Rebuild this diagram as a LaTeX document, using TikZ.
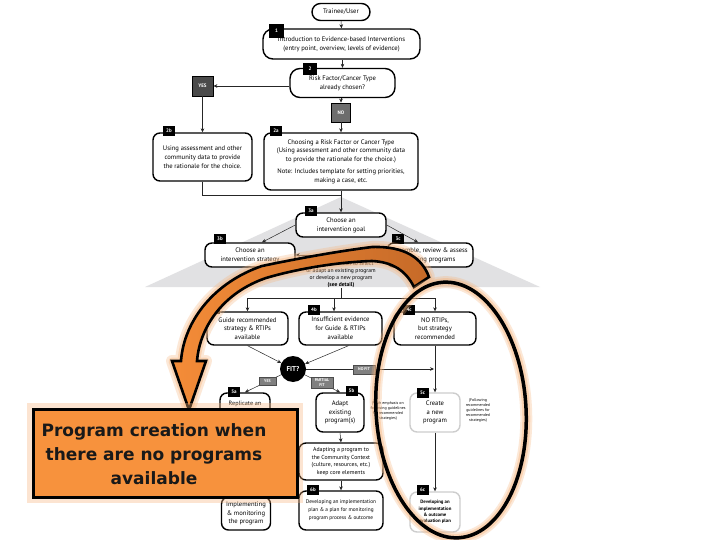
\documentclass[tikz,border=0pt]{standalone}
\usepackage{fontspec}
\setmainfont{PT Sans}
\newfontfamily\bigfont{DejaVu Sans}
\usetikzlibrary{arrows.meta}
\definecolor{orfill}{HTML}{F7923D}
\definecolor{orlight}{HTML}{F48C38}
\definecolor{ordark}{HTML}{C66A28}
\definecolor{glow}{HTML}{F7B47C}
\definecolor{roofgray}{HTML}{E1E1E3}
\definecolor{lgray}{HTML}{CDCDCD}
\definecolor{midgray}{HTML}{808080}
\definecolor{dgray}{HTML}{4A4A4A}
\begin{document}
\begin{tikzpicture}[x=1pt,y=-1pt,
  box/.style={draw=black, line width=1.4pt, rounded corners=7pt, align=center, inner sep=1pt, fill=white, font=\fontsize{6.6}{8.8}\selectfont},
  lbox/.style={box, draw=lgray},
  tag/.style={fill=black, text=white, font=\fontsize{5}{5}\selectfont\bfseries, inner sep=0pt, minimum width=12, minimum height=10},
  gbtn/.style={fill=midgray, draw=black!70, line width=0.3pt, text=white, font=\fontsize{4}{4.2}\selectfont\bfseries, inner sep=0.6pt, align=center},
  arr/.style={draw=black!85, line width=0.5pt, -{Stealth[length=4pt,width=3.6pt]}},
  ln/.style={draw=black!85, line width=0.5pt},
  note/.style={font=\fontsize{4}{5}\selectfont, align=center, inner sep=0pt},
]
\useasboundingbox (0,0) rectangle (720,540);
\fill[white] (0,0) rectangle (720,540);
% roof
\fill[roofgray] (341,197) -- (540,287) -- (145,287) -- cycle;

% top part
\node[box, rounded corners=8.5pt, minimum width=58, minimum height=17] (tr) at (341,12) {Trainee/User};
\node[box, rounded corners=10pt, minimum width=157, minimum height=30] (b1) at (341.5,44) {Introduction to Evidence-based Interventions\\(entry point, overview, levels of evidence)};
\node[tag, minimum width=15, minimum height=14] (t1) at (276.5,31) {1};
\node[box, rounded corners=10pt, minimum width=105, minimum height=29] (b2) at (342.5,83) {Risk Factor/Cancer Type\\already chosen?};
\node[tag, minimum width=14, minimum height=12] (t2) at (310,69) {2};
\node[fill=dgray, draw=black, line width=0.8pt, text=white, font=\fontsize{5}{5}\selectfont\bfseries, minimum width=21, minimum height=20, inner sep=0pt] (yes1) at (202.5,86) {YES};
\node[fill=midgray!85!black, draw=black, line width=0.8pt, text=white, font=\fontsize{5}{5}\selectfont\bfseries, minimum width=19, minimum height=19, inner sep=0pt] (no1) at (341,112.5) {NO};

\node[box, minimum width=99, minimum height=48] (b2b) at (202.5,157) {Using assessment and other\\community data to provide\\the rationale for the choice.};
\node[tag] (t2b) at (169,131) {2b};
\node[box, minimum width=154, minimum height=57] (b2a) at (341,161.5) {Choosing a Risk Factor or Cancer Type\\(Using assessment and other community data\\to provide the rationale for the choice.)\\[3pt]Note: Includes template for setting priorities,\\making a case, etc.};
\node[tag] (t2a) at (276,131) {2a};

% level 3
\node[box, minimum width=90, minimum height=24] (b3a) at (341,225) {Choose an\\intervention goal};
\node[tag] (t3a) at (311,211) {3a};
\node[box, minimum width=90, minimum height=24] (b3b) at (250,255) {Choose an\\intervention strategy};
\node[tag] (t3b) at (220,239) {3b};
\node[box, minimum width=86, minimum height=24] (b3c) at (430,255) {Assemble, review \& assess\\existing programs};
\node[tag] (t3c) at (398,239) {3c};
\node[align=center, font=\fontsize{5.6}{7}\selectfont, inner sep=0pt] (dec) at (341,275) {Making a decision to select\\or adapt an existing program\\or develop a new program\\\textbf{(see detail)}};

% level 4
\node[box, minimum width=81, minimum height=33] (b4a) at (247.5,328.5) {Guide recommended\\strategy \& RTIPs\\available};
\node[tag] (t4a) at (214,309) {4a};
\node[box, minimum width=83, minimum height=33] (b4b) at (340.5,328.5) {Insufficient evidence\\for Guide \& RTIPs\\available};
\node[tag] (t4b) at (314,310) {4b};
\node[box, minimum width=82, minimum height=33] (b4c) at (435,328.5) {NO RTIPs,\\but strategy\\recommended};
\node[tag] (t4c) at (409,310) {4c};
\node[circle, fill=black, text=white, font=\fontsize{7}{7}\selectfont\bfseries, minimum size=26, inner sep=0pt] (fit) at (293,369) {FIT?};

% level 5
\node[box, minimum width=50, minimum height=47] (b5a) at (245,416.5) {};
\node[font=\fontsize{6.2}{8}\selectfont, inner sep=0pt] (t5atext) at (245,404) {Replicate an};
\node[tag] (t5a) at (234,392) {5a};
\node[box, minimum width=48, minimum height=39] (b5b) at (340,412.5) {Adapt\\existing\\program(s)};
\node[tag] (t5b) at (351.5,391) {5b};
\node[lbox, minimum width=50, minimum height=39] (b5c) at (435,412.5) {Create\\a new\\program};
\node[tag] (t5c) at (422.5,392.5) {5c};
\node[note] (n5b) at (388,411) {(With emphasis on\\following guidelines\\for recommended\\strategies)};
\node[note] (n5c) at (478,411) {(Following\\recommended\\guidelines for\\recommended\\strategies)};

\node[box, minimum width=84, minimum height=37, font=\fontsize{5.8}{7.6}\selectfont] (adapt) at (341,461.5) {Adapting a program to\\the Community Context\\(culture, resources, etc.)\\keep core elements};

% level 6
\node[box, minimum width=49, minimum height=33] (b6a) at (246,513.5) {Implementing\\\& monitoring\\the program};
\node[box, minimum width=84, minimum height=39, font=\fontsize{5.3}{8}\selectfont] (b6b) at (341,510.5) {Developing an implementation\\plan \& a plan for monitoring\\program process \& outcome};
\node[tag] (t6b) at (313,489.5) {6b};
\node[lbox, minimum width=50, minimum height=40, font=\fontsize{4.8}{6.4}\selectfont\bfseries] (b6c) at (435,512) {Developing an\\implementation\\\& outcome\\evaluation plan};
\node[tag] (t6c) at (422.5,489.5) {6c};

% connectors
\draw[arr] (tr.south) -- (b1.north);
\draw[arr] (b1.south -| b2.north) -- (b2.north);
\draw[arr] (b2.west |- yes1.east) -- (yes1.east);
\draw[arr] (no1.north |- b2.south) -- (no1.north);
\draw[arr] (no1.south) -- (b2a.north);
\draw[arr] (yes1.south) -- (b2b.north);
\coordinate (j1) at (341,195);
\draw[ln] (b2b.south) |- (j1);
\draw[arr] (b2a.south) -- (b3a.north);
\draw[arr] (b3a.west) -- ([xshift=12]b3b.north);
\draw[arr] (b3a.east) -- ([xshift=-12]b3c.north);
\coordinate (c3) at (322,255);
\draw[arr] (c3) -- (b3b.east);
\coordinate (j2) at (341,298);
\coordinate (j2l) at (247.5,298);
\coordinate (j2r) at (435,298);
\draw[ln] (dec.south) -- (j2);
\draw[ln] (j2l) -- (j2r);
\draw[arr] (j2l) -- (b4a.north);
\draw[arr] ([xshift=-6.5]b4b.north |- j2) -- ([xshift=-6.5]b4b.north);
\draw[arr] (j2r) -- (b4c.north);
\draw[arr] (b4a.south) -- (fit);
\draw[arr] ([xshift=8]b4b.south) -- (fit);
\coordinate (nf) at (434,369);
\draw[arr] (fit.east) -- (nf);
\draw[arr] (b4c.south) -- (b5c.north);
\draw[arr] (fit) -- (b5a.north);
\draw[arr] (fit) -- (b5b.north);
\draw[arr] (b5b.south) -- (adapt.north);
\draw[arr] (adapt.south) -- (b6b.north);
\draw[arr] (b5c.south) -- (b6c.north);
\coordinate (c6) at (285,493);
\draw[arr] (c6) -- (c6 -| b6b.west);

\node[gbtn, minimum width=17, minimum height=8] (yesl) at (267.5,381) {YES};
\node[gbtn, minimum width=22, minimum height=11] (pfit) at (322,382.5) {PARTIAL\\FIT};
\node[gbtn, minimum width=22, minimum height=9] (nofit) at (364,369.5) {NO FIT};

% curved orange arrow (one closed outline)
\def\bandpath{(429,277) .. controls (422,258) and (405,246) .. (372,247)
  .. controls (340,251) and (300,258) .. (262,266)
  .. controls (215,282) and (184,320) .. (181,361)
  -- (172,361) -- (189,410) -- (206,361) -- (197,361)
  .. controls (200,325) and (225,292) .. (266,278)
  .. controls (300,268) and (340,262) .. (372,261)
  .. controls (393,262) and (406,271) .. (414,287) -- cycle}
\draw[glow, line width=12pt, opacity=.3, line join=round] \bandpath;
\draw[glow, line width=7pt, opacity=.4, line join=round] \bandpath;
\path[draw=black, line width=2.6pt, line join=miter, left color=orlight, right color=ordark] \bandpath;

% ellipse
\begin{scope}[rotate around={3.5:(451,410)}]
\draw[glow, line width=12pt, opacity=.3] (451,410) ellipse [x radius=75, y radius=128];
\draw[glow, line width=8pt, opacity=.4] (451,410) ellipse [x radius=75, y radius=128];
\draw[black, line width=3.5pt] (451,410) ellipse [x radius=75, y radius=128];
\end{scope}

% orange box
\draw[glow, line width=12pt, opacity=.35] (33,409) rectangle (297,497);
\node[draw=black, line width=3pt, fill=orfill, minimum width=264, minimum height=88, inner sep=0pt] (ob) at (165,453) {};
\node[font=\bigfont\bfseries\fontsize{17}{24}\selectfont, align=center, text=black!90, inner sep=0pt] (obt) at (154,454.5) {Program creation when\\there are no programs\\available};
\end{tikzpicture}
\end{document}
